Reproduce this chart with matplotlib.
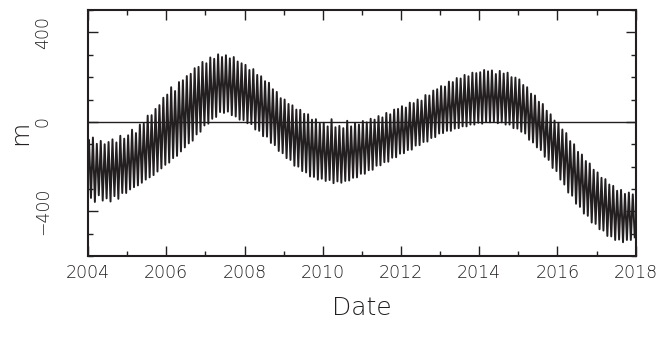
import numpy as np
import matplotlib
matplotlib.use("Agg")
import matplotlib.pyplot as plt
from matplotlib.ticker import MultipleLocator

# ~10 cycles per year; peak (high) and trough (low) values, in m
years = list(range(2004, 2018))
highs = [
    [-82, -70, -98, -85, -100, -90, -78, -92, -62, -75],      # 2004
    [-60, -35, -50, -12, -8, 28, 30, 58, 75, 108],            # 2005
    [122, 155, 138, 178, 186, 205, 215, 240, 246, 268],       # 2006
    [262, 288, 282, 302, 290, 298, 284, 290, 270, 262],       # 2007
    [255, 232, 236, 210, 204, 182, 175, 146, 134, 106],       # 2008
    [100, 80, 74, 55, 54, 36, 34, 10, 12, -8],                # 2009
    [-4, -20, 12, -24, -18, -28, 5, -20, -6, -12],            # 2010
    [4, -2, 14, 10, 26, 20, 40, 34, 55, 58],                  # 2011
    [70, 64, 86, 84, 100, 95, 120, 118, 140, 146],            # 2012
    [160, 158, 180, 178, 196, 194, 210, 204, 220, 218],       # 2013
    [222, 232, 226, 230, 214, 228, 216, 220, 200, 198],       # 2014
    [190, 165, 155, 126, 118, 90, 80, 50, 34, 6],             # 2015
    [-4, -34, -50, -86, -100, -134, -146, -175, -186, -214],  # 2016
    [-226, -250, -256, -280, -286, -308, -304, -322, -316, -324],  # 2017
]
lows = [
    [-340, -358, -328, -352, -342, -356, -332, -344, -318, -318],  # 2004
    [-302, -292, -284, -272, -258, -248, -238, -222, -208, -192],  # 2005
    [-182, -162, -152, -132, -114, -96, -84, -56, -44, -16],       # 2006
    [-8, 14, 22, 44, 40, 46, 30, 24, 10, 8],                       # 2007
    [-6, -10, -34, -40, -64, -66, -94, -104, -130, -140],          # 2008
    [-162, -170, -196, -200, -220, -226, -244, -246, -258, -254],  # 2009
    [-264, -260, -274, -266, -272, -264, -262, -250, -248, -232],  # 2010
    [-232, -216, -214, -196, -194, -180, -178, -160, -158, -142],  # 2011
    [-140, -126, -124, -106, -104, -90, -88, -72, -68, -52],       # 2012
    [-50, -40, -40, -30, -28, -20, -20, -12, -12, -4],             # 2013
    [-8, 0, -2, 2, -6, -2, -12, -12, -28, -30],                    # 2014
    [-44, -52, -80, -92, -114, -126, -156, -170, -206, -220],      # 2015
    [-258, -280, -316, -330, -366, -380, -410, -420, -450, -456],  # 2016
    [-480, -486, -510, -512, -528, -526, -538, -528, -528, -516],  # 2017
]

# build the zig-zag: peak then trough within each tenth of a year
t, v = [], []
for yr, hi_row, lo_row in zip(years, highs, lows):
    for i, (hi, lo) in enumerate(zip(hi_row, lo_row)):
        t += [yr + (i + 0.25) / 10, yr + (i + 0.75) / 10]
        v += [hi, lo]

ink = "#231f20"
fig = plt.figure(figsize=(6.72, 3.47), dpi=100)
ax = fig.add_axes([0.131, 0.262, 0.815, 0.709])

ax.plot(t, v, color=ink, lw=1.4)
ax.axhline(0, color=ink, lw=1.0)

ax.set_xlim(2004, 2018)
ax.set_ylim(-600, 500)
ax.xaxis.set_major_locator(MultipleLocator(2))
ax.xaxis.set_minor_locator(MultipleLocator(1))
ax.yaxis.set_major_locator(MultipleLocator(400))
ax.yaxis.set_minor_locator(MultipleLocator(100))
ax.tick_params(which="both", direction="in", top=True, right=True,
               color=ink, width=1.0)
ax.tick_params(which="major", length=7, labelsize=12.5, labelcolor=ink)
ax.tick_params(which="minor", length=3.5)
ax.tick_params(axis="x", which="major", pad=6)
ax.tick_params(axis="y", which="major", pad=26)
for lab in ax.get_yticklabels() + ax.get_xticklabels():
    lab.set_fontweight("light")
for lab in ax.get_yticklabels():
    lab.set_rotation(90)
    lab.set_va("center")
for s in ax.spines.values():
    s.set_linewidth(1.5)
    s.set_color(ink)

ax.set_xlabel("Date", fontsize=18, fontweight="light", labelpad=10, color=ink)
ax.set_ylabel("m", fontsize=18, fontweight="light", labelpad=1, color=ink)

fig.savefig("out.png", dpi=100)
